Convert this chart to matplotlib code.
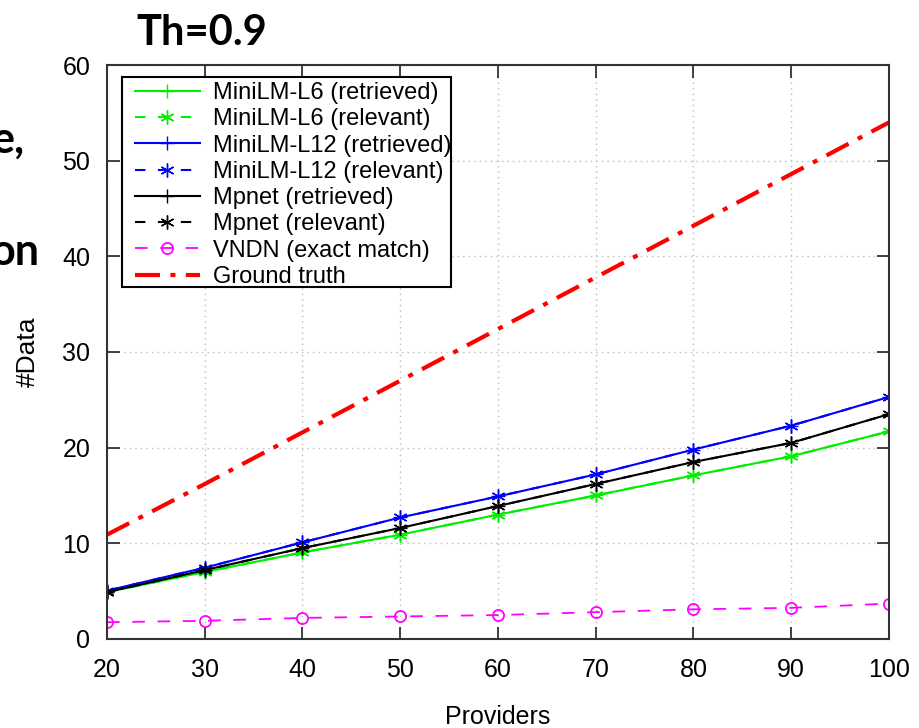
import numpy as np
import matplotlib
matplotlib.use('Agg')
import matplotlib.pyplot as plt
from matplotlib.patches import Rectangle

plt.rcParams['font.family'] = ['Liberation Sans', 'DejaVu Sans']

# --- Datos ---
providers = [20, 30, 40, 50, 60, 70, 80, 90, 100]
l6_retrieved = [4.9, 7.0, 9.05, 10.9, 13.0, 15.0, 17.1, 19.1, 21.7]
l6_relevant = [4.9, 7.0, 9.05, 10.9, 13.0, 15.0, 17.1, 19.1, 21.7]
l12_retrieved = [5.05, 7.45, 10.1, 12.7, 14.9, 17.2, 19.8, 22.3, 25.3]
l12_relevant = [5.05, 7.45, 10.1, 12.7, 14.9, 17.2, 19.8, 22.3, 25.3]
mpnet_retrieved = [4.9, 7.2, 9.5, 11.6, 13.9, 16.2, 18.5, 20.5, 23.5]
mpnet_relevant = [4.9, 7.2, 9.5, 11.6, 13.9, 16.2, 18.5, 20.5, 23.5]
vndn_exact = [1.75, 1.9, 2.2, 2.35, 2.5, 2.8, 3.1, 3.25, 3.7]
ground_truth = [10.9, 16.2, 21.6, 27.0, 32.4, 37.8, 43.2, 48.6, 54.0]

GREEN = '#00ee00'
BLUE = '#0000ff'
BLACK = '#000000'
MAGENTA = '#ff00ff'
RED = '#ff0000'
ASTER = (6, 2, 0)
DASH = (0, (5, 6))

fig = plt.figure(figsize=(9.2, 7.28), dpi=100)
ax = fig.add_axes([0.1163, 0.1223, 0.85, 0.7884])

ax.plot(providers, l6_retrieved, color=GREEN, lw=1.5, marker='+', ms=10,
        label='MiniLM-L6 (retrieved)')
ax.plot(providers, l6_relevant, color=GREEN, lw=1.5, ls=DASH, marker=ASTER,
        ms=10, label='MiniLM-L6 (relevant)')
ax.plot(providers, l12_retrieved, color=BLUE, lw=1.5, marker='+', ms=10,
        label='MiniLM-L12 (retrieved)')
ax.plot(providers, l12_relevant, color=BLUE, lw=1.5, ls=DASH, marker=ASTER,
        ms=10, label='MiniLM-L12 (relevant)')
ax.plot(providers, mpnet_retrieved, color=BLACK, lw=1.5, marker='+', ms=10,
        label='Mpnet (retrieved)')
ax.plot(providers, mpnet_relevant, color=BLACK, lw=1.5, ls=DASH, marker=ASTER,
        ms=10, label='Mpnet (relevant)')
ax.plot(providers, vndn_exact, color=MAGENTA, lw=1.3, ls=(0, (7, 7)), marker='o',
        ms=8, mfc='none', mew=1.3, label='VNDN (exact match)')
ax.plot(providers, ground_truth, color=RED, lw=3, ls=(0, (6, 2.5, 1.2, 2.5)),
        label='Ground truth')

ax.set_xlim(20, 100)
ax.set_ylim(0, 60)
ax.set_xticks(range(20, 101, 10))
ax.set_yticks(range(0, 61, 10))
ax.grid(True, color='#bbbbbb', ls=(0, (1, 3)), lw=1)
ax.tick_params(axis='x', pad=14)
ax.tick_params(which='both', direction='in', top=True, right=True,
               length=9, width=1.3, labelsize=18, color='#333333')
ax.tick_params(axis='y', pad=12)
for s in ax.spines.values():
    s.set_color('#333333')
    s.set_linewidth(1.5)

ax.set_xlabel('Providers', fontsize=18, labelpad=16)
ax.set_ylabel('#Data', fontsize=19, labelpad=16)

# Leyenda sin marco propio; el marco se dibuja aparte (estilo gnuplot)
leg = ax.legend(loc='upper left', bbox_to_anchor=(0.0358, 0.970), borderaxespad=0,
                fontsize=17, frameon=False, handlelength=2.75,
                handletextpad=0.55, labelspacing=0.18, borderpad=0)
ax.add_patch(Rectangle((0.0192, 0.6132), 0.4207, 0.3658, transform=ax.transAxes,
                       facecolor='white', edgecolor='black', lw=1.5, zorder=4))
leg.set_zorder(5)

# Texto de la diapositiva (recortado a la izquierda)
fig.text(0.219, 1 - 45 / 728, 'Th=0.9', fontsize=30, fontweight='bold', family='Lato',
         ha='center', va='baseline')
fig.text(25 / 920, 1 - 153 / 728, 'e,', fontsize=31, fontweight='bold', family='Lato',
         ha='right', va='baseline')
fig.text(40 / 920, 1 - 265 / 728, 'on', fontsize=31, fontweight='bold', family='Lato',
         ha='right', va='baseline')

fig.savefig('out.png', dpi=100)
